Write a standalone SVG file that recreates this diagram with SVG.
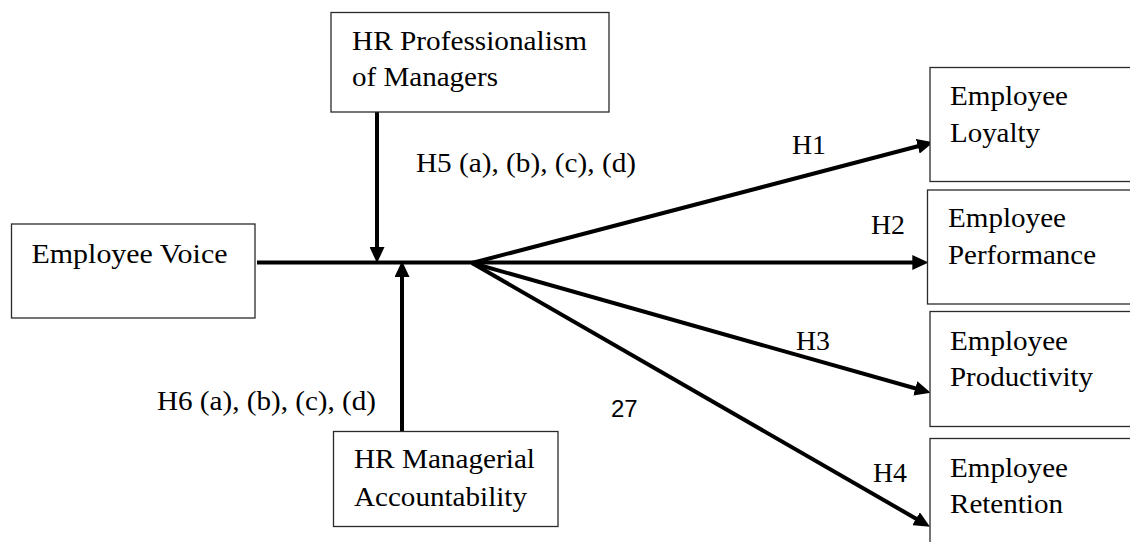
<svg xmlns="http://www.w3.org/2000/svg" width="1130" height="542" viewBox="0 0 1130 542">
  <style>
    .box { fill: #ffffff; stroke: #2a2a2a; stroke-width: 1.3; }
    .lbl { font-family: 'Liberation Serif', 'Times New Roman', serif; font-size: 27px; fill: #000000; }
    .num { font-family: 'Liberation Sans', Arial, sans-serif; font-size: 24px; fill: #000000; }
    .conn { stroke: #000000; stroke-width: 4; fill: none; marker-end: url(#head); }
  </style>
  <defs>
    <marker id="head" markerUnits="userSpaceOnUse" markerWidth="16" markerHeight="15" refX="6" refY="7.5" orient="auto">
      <path d="M0,0 L16,7.5 L0,15 Z" fill="#000000"/>
    </marker>
  </defs>
  <rect width="1130" height="542" fill="#ffffff"/>

  <g id="connectors">
    <!-- voice to performance (H2) -->
    <line class="conn" x1="257" y1="262.5" x2="918.3" y2="262.5"/>
    <!-- moderators onto the main path -->
    <line class="conn" x1="377" y1="112" x2="377" y2="253"/>
    <line class="conn" x1="402" y1="431.5" x2="402" y2="271"/>
    <!-- fan from the branching point -->
    <line class="conn" x1="472" y1="263" x2="923.6" y2="144.8"/>
    <line class="conn" x1="472" y1="263" x2="921.1" y2="390"/>
    <line class="conn" x1="472" y1="263" x2="921.3" y2="521.7"/>
  </g>

  <g id="edge-labels">
    <text class="lbl" x="416" y="172" textLength="220" lengthAdjust="spacingAndGlyphs">H5 (a), (b), (c), (d)</text>
    <text class="lbl" x="157" y="410" textLength="219" lengthAdjust="spacingAndGlyphs">H6 (a), (b), (c), (d)</text>
    <text class="lbl" x="792" y="154" textLength="34" lengthAdjust="spacingAndGlyphs">H1</text>
    <text class="lbl" x="871" y="234" textLength="34" lengthAdjust="spacingAndGlyphs">H2</text>
    <text class="lbl" x="796" y="350" textLength="34" lengthAdjust="spacingAndGlyphs">H3</text>
    <text class="lbl" x="873" y="481.5" textLength="34" lengthAdjust="spacingAndGlyphs">H4</text>
    <text class="num" x="611" y="417">27</text>
  </g>

  <g id="hr-professionalism">
    <rect class="box" x="331" y="12.5" width="278" height="99.5"/>
    <text class="lbl" x="352" y="50" textLength="235" lengthAdjust="spacingAndGlyphs">HR Professionalism</text>
    <text class="lbl" x="352" y="86" textLength="146" lengthAdjust="spacingAndGlyphs">of Managers</text>
  </g>

  <g id="employee-voice">
    <rect class="box" x="11.5" y="224" width="243.5" height="94"/>
    <text class="lbl" x="31.5" y="262.5" textLength="196" lengthAdjust="spacingAndGlyphs">Employee Voice</text>
  </g>

  <g id="hr-managerial-accountability">
    <rect class="box" x="333.5" y="431.5" width="224.5" height="95"/>
    <text class="lbl" x="354" y="468" textLength="181" lengthAdjust="spacingAndGlyphs">HR Managerial</text>
    <text class="lbl" x="354" y="505.5" textLength="173" lengthAdjust="spacingAndGlyphs">Accountability</text>
  </g>

  <g id="employee-loyalty">
    <rect class="box" x="930" y="67.5" width="220" height="114"/>
    <text class="lbl" x="950" y="105" textLength="118" lengthAdjust="spacingAndGlyphs">Employee</text>
    <text class="lbl" x="950" y="141.5" textLength="90" lengthAdjust="spacingAndGlyphs">Loyalty</text>
  </g>

  <g id="employee-performance">
    <rect class="box" x="927.5" y="190" width="220" height="114"/>
    <text class="lbl" x="948" y="226.5" textLength="118" lengthAdjust="spacingAndGlyphs">Employee</text>
    <text class="lbl" x="948" y="263.5" textLength="148" lengthAdjust="spacingAndGlyphs">Performance</text>
  </g>

  <g id="employee-productivity">
    <rect class="box" x="930" y="311.5" width="220" height="115"/>
    <text class="lbl" x="950" y="350" textLength="118" lengthAdjust="spacingAndGlyphs">Employee</text>
    <text class="lbl" x="950" y="386" textLength="143" lengthAdjust="spacingAndGlyphs">Productivity</text>
  </g>

  <g id="employee-retention">
    <rect class="box" x="930" y="438.5" width="220" height="130"/>
    <text class="lbl" x="950" y="476.5" textLength="118" lengthAdjust="spacingAndGlyphs">Employee</text>
    <text class="lbl" x="950" y="512.5" textLength="113" lengthAdjust="spacingAndGlyphs">Retention</text>
  </g>
</svg>
